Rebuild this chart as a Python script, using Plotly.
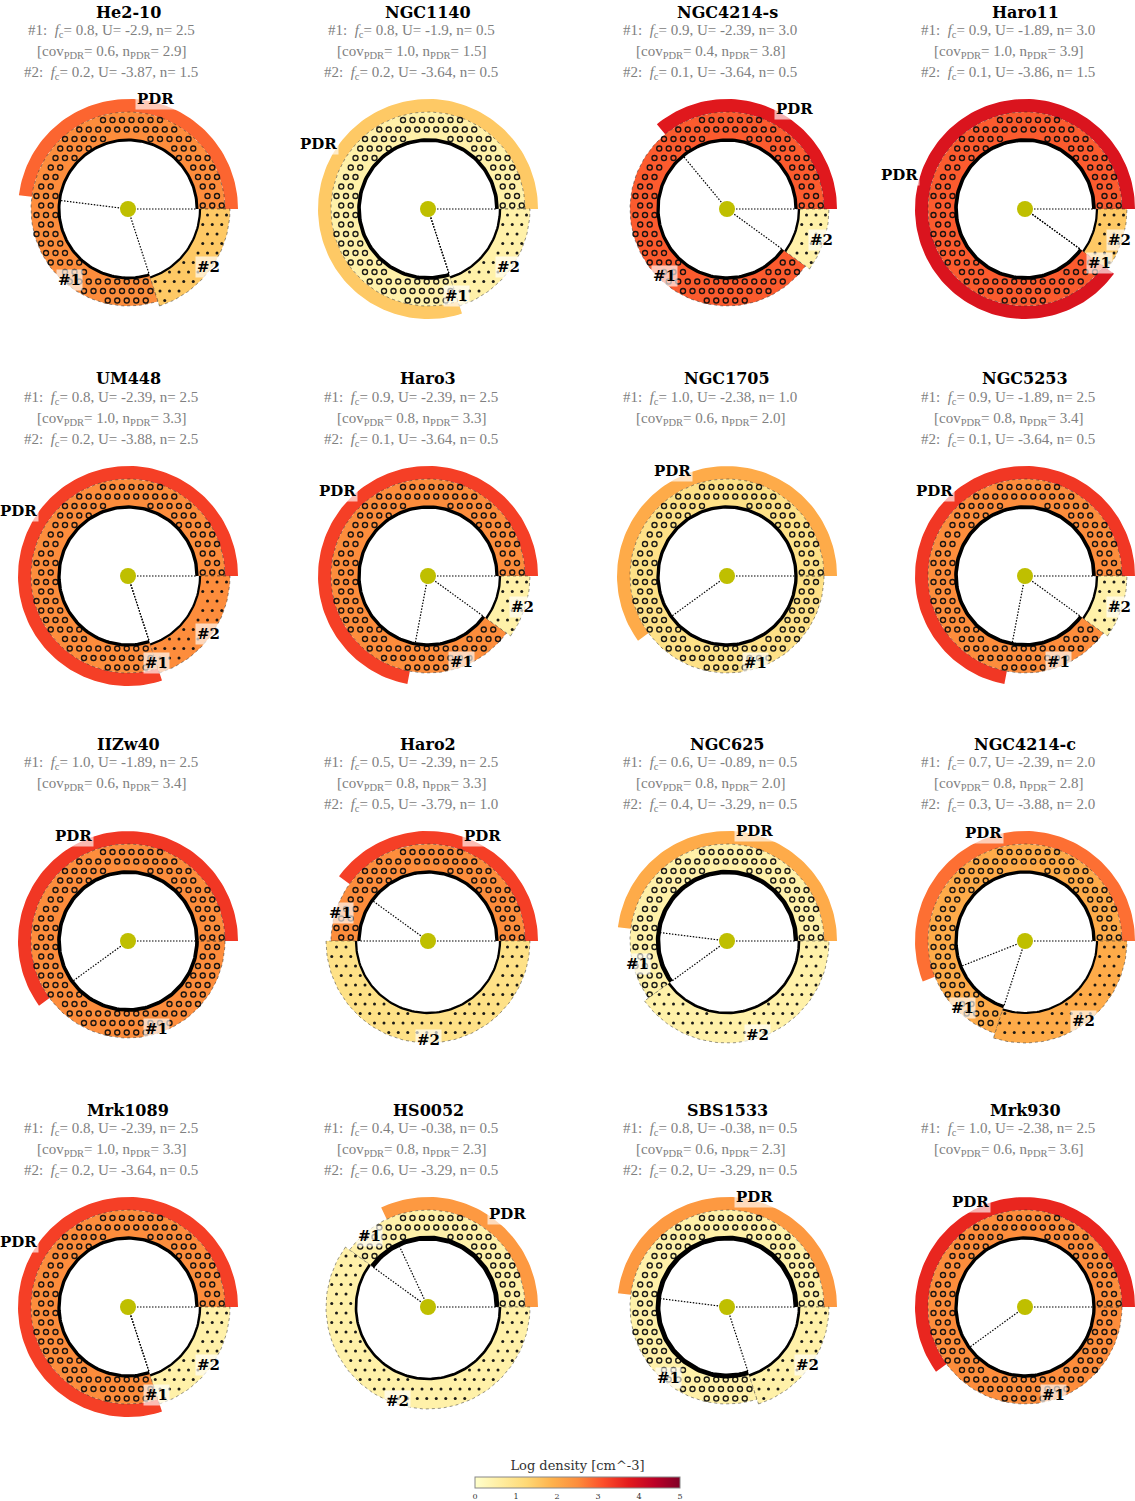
import numpy as np
import plotly.express as px
import plotly.graph_objects as go
from plotly.colors import sample_colorscale
from plotly.subplots import make_subplots

# --- datos por galaxia ---
names = ["He2-10", "NGC1140", "NGC4214-s", "Haro11",
         "UM448", "Haro3", "NGC1705", "NGC5253",
         "IIZw40", "Haro2", "NGC625", "NGC4214-c",
         "Mrk1089", "HS0052", "SBS1533", "Mrk930"]

fc1 = [0.8, 0.8, 0.9, 0.9, 0.8, 0.9, 1.0, 0.9, 1.0, 0.5, 0.6, 0.7, 0.8, 0.4, 0.8, 1.0]
U1 = [-2.9, -1.9, -2.39, -1.89, -2.39, -2.39, -2.38, -1.89,
      -1.89, -2.39, -0.89, -2.39, -2.39, -0.38, -0.38, -2.38]
n1 = [2.5, 0.5, 3.0, 3.0, 2.5, 2.5, 1.0, 2.5, 2.5, 2.5, 0.5, 2.0, 2.5, 0.5, 0.5, 2.5]

cov_pdr = [0.6, 1.0, 0.4, 1.0, 1.0, 0.8, 0.6, 0.8, 0.6, 0.8, 0.8, 0.8, 1.0, 0.8, 0.6, 0.6]
n_pdr = [2.9, 1.5, 3.8, 3.9, 3.3, 3.3, 2.0, 3.4, 3.4, 3.3, 2.0, 2.8, 3.3, 2.3, 2.3, 3.6]

fc2 = [0.2, 0.2, 0.1, 0.1, 0.2, 0.1, None, 0.1, None, 0.5, 0.4, 0.3, 0.2, 0.6, 0.2, None]
U2 = [-3.87, -3.64, -3.64, -3.86, -3.88, -3.64, None, -3.64,
      None, -3.79, -3.29, -3.88, -3.64, -3.29, -3.29, None]
n2 = [1.5, 0.5, 0.5, 1.5, 2.5, 0.5, None, 0.5, None, 1.0, 0.5, 2.0, 0.5, 0.5, 0.5, None]

# --- geometria ---
W, H = 1135, 1501
SCALE = 100.0            # px por unidad
HALF = 1.18
COL_X = [128, 428, 727, 1025]
ROW_Y = [209, 576, 941, 1307]
R1 = (0.69, 0.97)
R2 = (0.72, 1.02)
R_PDR = (0.97, 1.10)
HATCH_STEP = 0.095
CMAP = px.colors.sequential.YlOrRd
SERIF = "DejaVu Serif"


def dens_color(n):
    return sample_colorscale(CMAP, [n / 5.0])[0]


def ring(t0, t1, r0, r1):
    t = np.radians(np.linspace(t0, t1, max(int(abs(t1 - t0) / 2) + 2, 3)))
    xs = np.concatenate([r1 * np.cos(t), r0 * np.cos(t[::-1]), [r1 * np.cos(t[0])]])
    ys = np.concatenate([r1 * np.sin(t), r0 * np.sin(t[::-1]), [r1 * np.sin(t[0])]])
    return xs, ys


def arc(t0, t1, r):
    t = np.radians(np.linspace(t0, t1, max(int(abs(t1 - t0) / 2) + 2, 3)))
    return r * np.cos(t), r * np.sin(t)


def hatch_points(t0, t1, r0, r1):
    g = np.arange(-1.2, 1.2 + 1e-9, HATCH_STEP)
    xs, ys = [], []
    for j, yv in enumerate(g):
        shift = HATCH_STEP / 2 if j % 2 else 0.0
        for xv in g + shift:
            r = np.hypot(xv, yv)
            a = np.degrees(np.arctan2(yv, xv)) % 360
            if r0 + 0.03 < r < r1 - 0.02 and t0 + 0.5 < a < t1 - 0.5:
                xs.append(xv)
                ys.append(yv)
    return xs, ys


def border_width(u):
    return max(2.2, 2.2 + 0.75 * (u + 3.9))


fig = make_subplots(rows=4, cols=4)

for i, name in enumerate(names):
    r, c = divmod(i, 4)
    row, col = r + 1, c + 1
    cx, cy = COL_X[c], ROW_Y[r]
    k = i + 1
    xr = "x" if k == 1 else f"x{k}"
    yr = "y" if k == 1 else f"y{k}"

    # dominio de cada panel en pixeles
    x0 = max(cx - HALF * SCALE, 0)
    x1 = min(cx + HALF * SCALE, W)
    top = max(cy - HALF * SCALE, 0)
    bot = min(cy + HALF * SCALE, H)
    fig.update_xaxes(domain=[x0 / W, x1 / W], range=[(x0 - cx) / SCALE, (x1 - cx) / SCALE],
                     visible=False, row=row, col=col)
    fig.update_yaxes(domain=[1 - bot / H, 1 - top / H], range=[(cy - bot) / SCALE, (cy - top) / SCALE],
                     visible=False, row=row, col=col)

    t_b = fc1[i] * 360.0
    t_pdr = cov_pdr[i] * t_b

    # arco PDR
    px_, py_ = ring(0, t_pdr, *R_PDR)
    fig.add_trace(go.Scatter(x=px_, y=py_, fill="toself", mode="lines",
                             fillcolor=dens_color(n_pdr[i]), line=dict(width=0),
                             hoverinfo="skip"), row=row, col=col)

    sectors = [(0.0, t_b, R1, n1[i], U1[i], "o")]
    if fc2[i] is not None:
        sectors.append((t_b, 360.0, R2, n2[i], U2[i], "."))

    for t0, t1, rr, nn, uu, hatch in sectors:
        sx, sy = ring(t0, t1, *rr)
        fig.add_trace(go.Scatter(x=sx, y=sy, fill="toself", mode="lines",
                                 fillcolor=dens_color(nn),
                                 line=dict(color="rgba(40,40,40,0.7)", width=0.7, dash="dot"),
                                 hoverinfo="skip"), row=row, col=col)
        hx, hy = hatch_points(t0, t1, *rr)
        if hatch == "o":
            mk = dict(symbol="circle-open", size=5, color="rgba(15,15,15,0.95)", line=dict(width=1.4))
        else:
            mk = dict(symbol="circle", size=3.0, color="rgba(15,15,15,0.95)")
        fig.add_trace(go.Scatter(x=hx, y=hy, mode="markers", marker=mk, hoverinfo="skip"),
                      row=row, col=col)

    # borde interior
    for t0, t1, rr, nn, uu, hatch in sectors:
        ax_, ay_ = arc(t0, t1, rr[0])
        fig.add_trace(go.Scatter(x=ax_, y=ay_, mode="lines",
                                 line=dict(color="black", width=border_width(uu)),
                                 hoverinfo="skip"), row=row, col=col)

    # lineas punteadas desde el centro
    angs = [0.0, t_pdr]
    if fc2[i] is not None:
        angs.append(t_b)
    for a in angs:
        ra = R1[0]
        fig.add_trace(go.Scatter(x=[0, ra * np.cos(np.radians(a))], y=[0, ra * np.sin(np.radians(a))],
                                 mode="lines", line=dict(color="black", width=1.2, dash="1.5px,1.5px"),
                                 hoverinfo="skip"), row=row, col=col)

    # fuente central
    fig.add_trace(go.Scatter(x=[0], y=[0], mode="markers",
                             marker=dict(size=16, color="#bfbf00"), hoverinfo="skip"),
                  row=row, col=col)

    # etiquetas
    lab = dict(bgcolor="rgba(255,255,255,0.65)", borderpad=1, showarrow=False,
               font=dict(family=SERIF, size=15, color="black"), xref=xr, yref=yr)
    am = np.radians(t_pdr / 2)
    fig.add_annotation(x=R_PDR[1] * np.cos(am), y=R_PDR[1] * np.sin(am), text="<b>PDR</b>",
                       xanchor="left" if np.cos(am) >= 0 else "right", yanchor="middle", **lab)
    a1 = np.radians((t_pdr + t_b) / 2)
    fig.add_annotation(x=0.92 * np.cos(a1), y=0.92 * np.sin(a1), text="<b>#1</b>",
                       xanchor="center", yanchor="middle", **lab)
    if fc2[i] is not None:
        a2 = np.radians((t_b + 360.0) / 2)
        fig.add_annotation(x=0.99 * np.cos(a2), y=0.99 * np.sin(a2), text="<b>#2</b>",
                           xanchor="center", yanchor="middle", **lab)

    # titulo y parametros
    fig.add_annotation(x=cx / W, y=1 - (cy - 197) / H, xref="paper", yref="paper",
                       xanchor="center", yanchor="middle",
                       text=f"<b>{name}</b>", showarrow=False,
                       font=dict(family=SERIF, size=16, color="black"))
    lines = [f"#1:&nbsp; <i>f</i><sub>c</sub>= {fc1[i]}, U= {U1[i]}, n= {n1[i]}",
             f"[cov<sub>PDR</sub>= {cov_pdr[i]}, n<sub>PDR</sub>= {n_pdr[i]}]"]
    if fc2[i] is not None:
        lines.append(f"#2:&nbsp; <i>f</i><sub>c</sub>= {fc2[i]}, U= {U2[i]}, n= {n2[i]}")
    for j, txt in enumerate(lines):
        fig.add_annotation(x=(cx - 17) / W, y=1 - (cy - 178 + 21 * j) / H,
                           xref="paper", yref="paper", xanchor="center", yanchor="middle",
                           text=txt, showarrow=False,
                           font=dict(family="Liberation Serif", size=15, color="#808080"))

# barra de color
fig.add_trace(go.Scatter(
    x=[0], y=[0], mode="markers", hoverinfo="skip",
    marker=dict(size=0.1, color=[0], colorscale=CMAP, cmin=0, cmax=5,
                colorbar=dict(orientation="h", x=577.5 / W, xanchor="center",
                              y=1 - 1498 / H, yanchor="bottom", ypad=0, xpad=0,
                              len=205, lenmode="pixels",
                              thickness=11, outlinecolor="#888", outlinewidth=1,
                              tickvals=[0, 1, 2, 3, 4, 5], ticks="",
                              tickfont=dict(family=SERIF, size=8, color="#333"),
                              title=dict(text="Log density [cm^-3]", side="top",
                                         font=dict(family=SERIF, size=13, color="#333")))),
), row=1, col=1)

fig.update_layout(width=W, height=H,
                  margin=dict(l=0, r=0, t=0, b=0, autoexpand=False),
                  showlegend=False, plot_bgcolor="white", paper_bgcolor="white")

# sin margen del <body> para que la figura quede en (0, 0)
fig.write_html("out.html", config={"displayModeBar": False},
               post_script="document.body.style.margin = '0';")
